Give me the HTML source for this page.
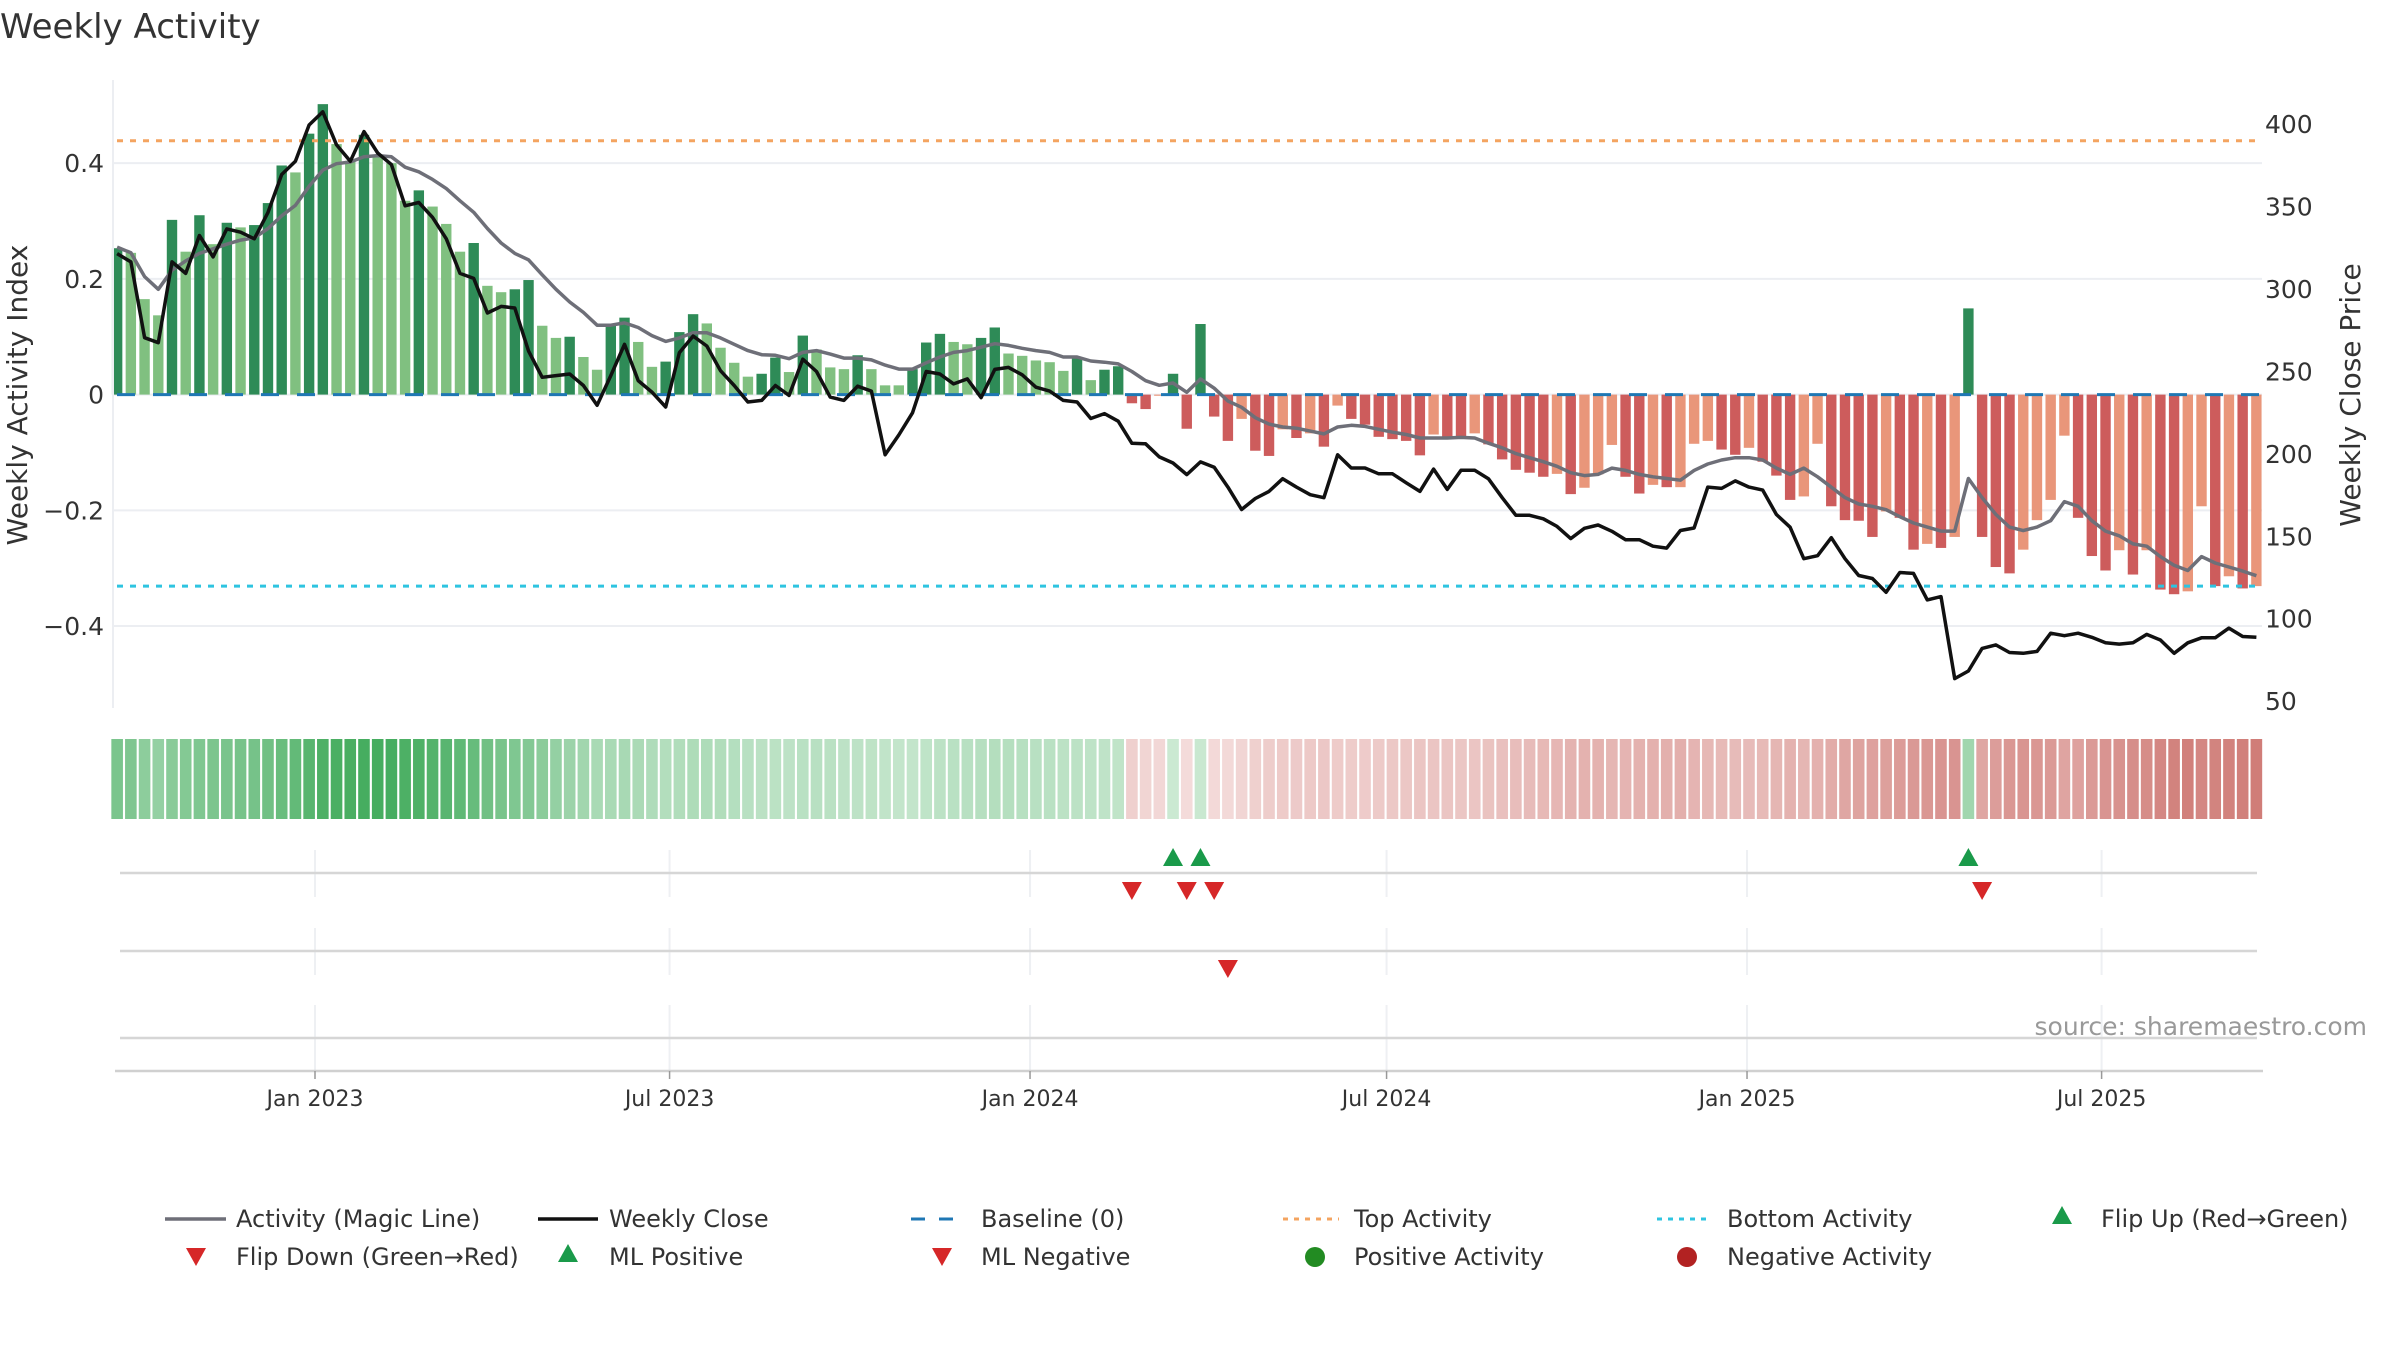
<!DOCTYPE html>
<html><head><meta charset="utf-8"><title>Weekly Activity</title>
<style>
html,body{margin:0;padding:0;background:#fff;}
svg{display:block;font-family:"DejaVu Sans","Liberation Sans",sans-serif;}
</style></head>
<body>
<svg id="chart" xmlns="http://www.w3.org/2000/svg" width="2400" height="1350" viewBox="0 0 2400 1350">
<rect width="2400" height="1350" fill="#fff"/>
<text x="0" y="38" font-size="34" fill="#333">Weekly Activity</text>
<g id="grid"></g><g id="bars"></g><g id="lines"></g><g id="strip"></g><g id="rows"></g><g id="axes"></g>
<text transform="translate(27,395) rotate(-90)" text-anchor="middle" font-size="28" fill="#333">Weekly Activity Index</text>
<text transform="translate(2360,395) rotate(-90)" text-anchor="middle" font-size="28" fill="#333">Weekly Close Price</text>
<text x="2367" y="1035" text-anchor="end" font-size="25" fill="#999">source: sharemaestro.com</text>
<g id="legend"></g>
</svg>
<script>
const activity = [0.253,0.245,0.165,0.137,0.302,0.247,0.31,0.26,0.297,0.289,0.293,0.331,0.396,0.384,0.451,0.502,0.433,0.404,0.449,0.411,0.40,0.335,0.353,0.325,0.295,0.247,0.262,0.188,0.177,0.182,0.198,0.119,0.098,0.1,0.065,0.043,0.12,0.133,0.091,0.048,0.057,0.108,0.139,0.123,0.081,0.055,0.031,0.036,0.064,0.039,
0.102,0.078,0.047,0.044,0.068,0.044,0.016,0.016,0.044,0.09,0.105,0.091,0.087,0.098,0.116,0.071,0.067,0.059,0.056,0.041,0.065,0.025,0.043,0.049,
-0.015,-0.025,-0.002,0.036,-0.059,0.122,-0.038,-0.08,-0.042,-0.097,-0.106,-0.06,-0.075,-0.067,-0.09,-0.019,-0.042,-0.052,-0.073,-0.077,-0.08,-0.105,-0.069,-0.074,-0.075,-0.067,-0.086,-0.112,-0.13,-0.135,-0.142,-0.137,-0.172,-0.161,-0.138,-0.087,-0.142,-0.171,-0.156,
-0.16,-0.16,-0.085,-0.08,-0.095,-0.104,-0.092,-0.116,-0.14,-0.182,-0.176,-0.085,-0.193,-0.217,-0.218,-0.246,-0.202,-0.213,-0.268,-0.258,-0.265,-0.246,0.149,-0.246,-0.298,-0.309,-0.268,-0.217,-0.182,-0.071,-0.213,-0.279,-0.304,-0.269,-0.311,-0.269,-0.337,-0.345,-0.34,-0.193,-0.331,-0.314,-0.335,-0.331];
const strong = [1,0,0,0,1,0,1,0,1,0,1,1,1,0,1,1,0,0,1,0,0,0,1,0,0,0,1,0,0,1,1,0,0,1,0,0,1,1,0,0,1,1,1,0,0,0,0,1,1,0,
1,0,0,0,1,0,0,0,1,1,1,0,0,1,1,0,0,0,0,0,1,0,1,1,
1,1,0,1,1,1,1,1,0,1,1,0,1,0,1,0,1,1,1,1,1,1,0,1,1,0,1,1,1,1,1,0,1,0,0,0,1,1,0,
1,0,0,0,1,1,0,1,1,1,0,0,1,1,1,1,0,1,1,0,1,0,1,1,1,1,0,0,0,0,1,1,1,0,1,0,1,1,0,0,1,0,1,0];
const magicLine = [0.255,0.245,0.204,0.182,0.215,0.231,0.244,0.252,0.26,0.267,0.271,0.287,0.309,0.327,0.36,0.388,0.399,0.402,0.411,0.413,0.411,0.393,0.385,0.372,0.356,0.335,0.315,0.287,0.262,0.244,0.233,0.207,0.182,0.16,0.142,0.12,0.12,0.124,0.116,0.102,0.092,0.098,0.107,0.107,0.098,0.087,0.076,0.069,0.068,0.062,
0.073,0.076,0.07,0.063,0.063,0.06,0.051,0.044,0.044,0.055,0.065,0.073,0.076,0.082,0.088,0.085,0.08,0.076,0.073,0.065,0.065,0.058,0.056,0.053,0.04,0.024,0.016,0.02,0.004,0.027,0.011,-0.011,-0.022,-0.04,-0.051,-0.056,-0.058,-0.063,-0.068,-0.056,-0.053,-0.055,-0.06,-0.065,-0.069,-0.075,-0.075,-0.075,-0.074,-0.075,-0.084,-0.092,-0.102,-0.109,-0.116,-0.124,-0.135,-0.14,
-0.138,-0.127,-0.131,-0.138,-0.142,-0.145,-0.148,-0.131,-0.12,-0.113,-0.109,-0.109,-0.113,-0.127,-0.138,-0.127,-0.142,-0.16,-0.178,-0.189,-0.193,-0.199,-0.211,-0.222,-0.229,-0.236,-0.236,-0.145,-0.178,-0.207,-0.229,-0.235,-0.229,-0.218,-0.185,-0.193,-0.218,-0.236,-0.244,-0.258,-0.262,-0.28,-0.295,-0.304,-0.28,-0.291,-0.298,-0.305,-0.313];
const weeklyClose = [322,317,271,268,317,310,333,320,337,335,331,347,370,378,400,408,388,378,396,383,376,351,353,344,331,310,307,286,290,289,263,247,248,249,242,230,248,267,245,238,229,262,272,266,251,242,232,233,242,236,
258,250.5,235,233,241.6,238.6,200,212,225.5,250.5,249,243,246,234.7,251.8,253,248.5,241,238.6,233,232,222,225,220.4,207,206.7,198.7,195,188,195.7,192.4,180.4,166.8,173.5,177.8,185.5,180.4,175.8,174,200,192,192,188.5,188.5,183,177.8,191.3,179,190.6,190.6,185.5,174,163.3,163.3,161.2,156.6,149.2,155.4,
157.4,153.6,148.5,148.5,144.6,143.4,154.1,155.6,180.4,179.6,184.2,180.4,178.6,163.8,156.1,137,138.8,149.7,137,126.8,125,116.6,128.6,128.1,112,114,64.3,68.9,82.6,84.7,80.1,79.6,80.8,91.8,90.3,91.8,89.3,86,85.2,86,91.1,87.7,79.6,86,89,89,94.9,89.8,89.3];
const flipUpIdx = [77,79,135];
const flipDownIdx = [74,78,80,136];
const mlNegativeIdx = [81];
const mlPositiveIdx = [];
const leftTicks = [0.4,0.2,0,-0.2,-0.4];
const leftTickLabels = ["0.4","0.2","0","\u22120.2","\u22120.4"];
const rightTicks = [400,350,300,250,200,150,100,50];
const dateTicks = ["2023-01-01","2023-07-01","2024-01-01","2024-07-01","2025-01-01","2025-07-01"];
const dateTickLabels = ["Jan 2023","Jul 2023","Jan 2024","Jul 2024","Jan 2025","Jul 2025"];
const startDate = "2022-09-22";
const topActivity = 0.4387;
const bottomActivity = -0.331;

const NS="http://www.w3.org/2000/svg";
function mk(parent,tag,attrs){const e=document.createElementNS(NS,tag);for(const k in attrs)e.setAttribute(k,attrs[k]);parent.appendChild(e);return e;}
const DAY=86400000, t0=Date.parse("2023-01-01T00:00:00Z");
function xDate(ms){return 315+(ms-t0)/DAY*1.959;}
function xi(i){return xDate(Date.parse(startDate+"T00:00:00Z")+i*7*DAY);}
function yL(v){return 394.6-v*578.6;}
function yR(p){return 125+(400-p)*1.649;}
const X0=113,X1=2262;
const gGrid=document.getElementById('grid'),gBars=document.getElementById('bars'),gLines=document.getElementById('lines'),gStrip=document.getElementById('strip'),gRows=document.getElementById('rows'),gAxes=document.getElementById('axes'),gLeg=document.getElementById('legend');

leftTicks.forEach((v,k)=>{
  const l=mk(gGrid,'line',{x1:X0,x2:X1,y1:yL(v),y2:yL(v),stroke:'#eceef2','stroke-width':2});
  
  
  const t=mk(gAxes,'text',{x:104,y:yL(v)+9,'text-anchor':'end','font-size':25,fill:'#333'});
  t.textContent=leftTickLabels[k];
  
  
});
rightTicks.forEach(p=>{
  const t=mk(gAxes,'text',{x:2265,y:yR(p)+8,'font-size':25,fill:'#333'});
  t.textContent=String(p);
  
  
});
const sp=mk(gAxes,'line',{x1:X0,x2:X0,y1:80,y2:708,stroke:'#eceef2','stroke-width':2});



activity.forEach((v,i)=>{
  const pos=v>=0;
  const c=pos?(strong[i]?'#2e8b57':'#80c080'):(strong[i]?'#cd5c5c':'#e9967a');
  const y=Math.min(yL(v),yL(0)),h=Math.abs(yL(v)-yL(0));
  const r=mk(gBars,'rect',{x:xi(i)-5.2,y:y,width:10.4,height:Math.max(h,0.5),fill:c});
  
  
});
let l=mk(gLines,'line',{x1:X0+4,x2:X1,y1:yL(0),y2:yL(0),stroke:'#1f77b4','stroke-width':3,'stroke-dasharray':'18 18'});


l=mk(gLines,'line',{x1:X0+4,x2:X1,y1:yL(topActivity),y2:yL(topActivity),stroke:'#f4a460','stroke-width':3,'stroke-dasharray':'6 7'});


l=mk(gLines,'line',{x1:X0+4,x2:X1,y1:yL(bottomActivity),y2:yL(bottomActivity),stroke:'#2ec4e0','stroke-width':3,'stroke-dasharray':'6 7'});


let d=magicLine.map((v,i)=>(i?'L':'M')+xi(i).toFixed(1)+','+yL(v).toFixed(1)).join('');
l=mk(gLines,'path',{d:d,fill:'none',stroke:'#6e6f78','stroke-width':3.5,'stroke-linejoin':'round'});


d=weeklyClose.map((p,i)=>(i?'L':'M')+xi(i).toFixed(1)+','+yR(p).toFixed(1)).join('');
l=mk(gLines,'path',{d:d,fill:'none',stroke:'#111','stroke-width':3.5,'stroke-linejoin':'round'});



function mix(a,b,t){const pa=a.match(/\w\w/g).map(h=>parseInt(h,16)),pb=b.match(/\w\w/g).map(h=>parseInt(h,16));return 'rgb('+pa.map((c,k)=>Math.round(c+(pb[k]-c)*t)).join(',')+')';}
activity.forEach((v,i)=>{
  const m=Math.abs(magicLine[i]);
  const c=v>=0?mix('d2ecd8','40aa5a',Math.min(1,m/0.43)):mix('f4dcdb','cf7b76',Math.min(1,m/0.32));
  const r=mk(gStrip,'rect',{x:xi(i)-5.8,y:739,width:11.6,height:80,fill:c});
  
  
});

[[850,897,873],[928,975,951],[1005,1071,1038]].forEach(rw=>{
  dateTicks.forEach(s=>{const x=xDate(Date.parse(s+"T00:00:00Z"));
    const g=mk(gRows,'line',{x1:x,x2:x,y1:rw[0],y2:rw[1],stroke:'#eef0f3','stroke-width':2});
    
    });
  const h=mk(gRows,'line',{x1:120,x2:2257,y1:rw[2],y2:rw[2],stroke:'#d6d6d6','stroke-width':2.5});
  
  
});
function tri(g,x,y,up,col){const w=10,h=9;const pts=up?`${x-w},${y+h} ${x+w},${y+h} ${x},${y-h}`:`${x-w},${y-h} ${x+w},${y-h} ${x},${y+h}`;return mk(g,'polygon',{points:pts,fill:col});}
flipUpIdx.forEach(i=>{const t=tri(gRows,xi(i),857,true,'#1a9a4a');});
flipDownIdx.forEach(i=>{const t=tri(gRows,xi(i),891,false,'#d62728');});
mlPositiveIdx.forEach(i=>{const t=tri(gRows,xi(i),935,true,'#1a9a4a');});
mlNegativeIdx.forEach(i=>{const t=tri(gRows,xi(i),969,false,'#d62728');});

l=mk(gAxes,'line',{x1:115,x2:2263,y1:1071,y2:1071,stroke:'#d0d0d0','stroke-width':2.5});


dateTicks.forEach((s,k)=>{const x=xDate(Date.parse(s+"T00:00:00Z"));
  const tk=mk(gAxes,'line',{x1:x,x2:x,y1:1071,y2:1079,stroke:'#999','stroke-width':1.5});
  
  
  const t=mk(gAxes,'text',{x:x,y:1106,'text-anchor':'middle','font-size':22,fill:'#333'});
  t.textContent=dateTickLabels[k];
  
  
});

function legText(x,y,s){const t=mk(gLeg,'text',{x:x,y:y+8,'font-size':24,fill:'#333'});t.textContent=s;return t;}
const R1=1219,R2=1257;
let e;
e=mk(gLeg,'line',{x1:165,x2:226,y1:R1,y2:R1,stroke:'#6e6f78','stroke-width':3.5});
e=legText(236,R1,'Activity (Magic Line)');
e=mk(gLeg,'line',{x1:538,x2:598,y1:R1,y2:R1,stroke:'#111','stroke-width':3.5});
e=legText(609,R1,'Weekly Close');
e=mk(gLeg,'line',{x1:911,x2:967,y1:R1,y2:R1,stroke:'#1f77b4','stroke-width':3,'stroke-dasharray':'14 14'});
e=legText(981,R1,'Baseline (0)');
e=mk(gLeg,'line',{x1:1283,x2:1339,y1:R1,y2:R1,stroke:'#f4a460','stroke-width':3,'stroke-dasharray':'5 6'});
e=legText(1354,R1,'Top Activity');
e=mk(gLeg,'line',{x1:1657,x2:1712,y1:R1,y2:R1,stroke:'#2ec4e0','stroke-width':3,'stroke-dasharray':'5 6'});
e=legText(1727,R1,'Bottom Activity');
e=tri(gLeg,2062,R1-4,true,'#1a9a4a');
e=legText(2101,R1,'Flip Up (Red\u2192Green)');
e=tri(gLeg,196,R2,false,'#d62728');
e=legText(236,R2,'Flip Down (Green\u2192Red)');
e=tri(gLeg,568,R2-4,true,'#1a9a4a');
e=legText(609,R2,'ML Positive');
e=tri(gLeg,942,R2,false,'#d62728');
e=legText(981,R2,'ML Negative');
e=mk(gLeg,'circle',{cx:1315,cy:R2,r:10,fill:'#228b22'});
e=legText(1354,R2,'Positive Activity');
e=mk(gLeg,'circle',{cx:1687,cy:R2,r:10,fill:'#b22222'});
e=legText(1727,R2,'Negative Activity');
</script>
</body></html>
